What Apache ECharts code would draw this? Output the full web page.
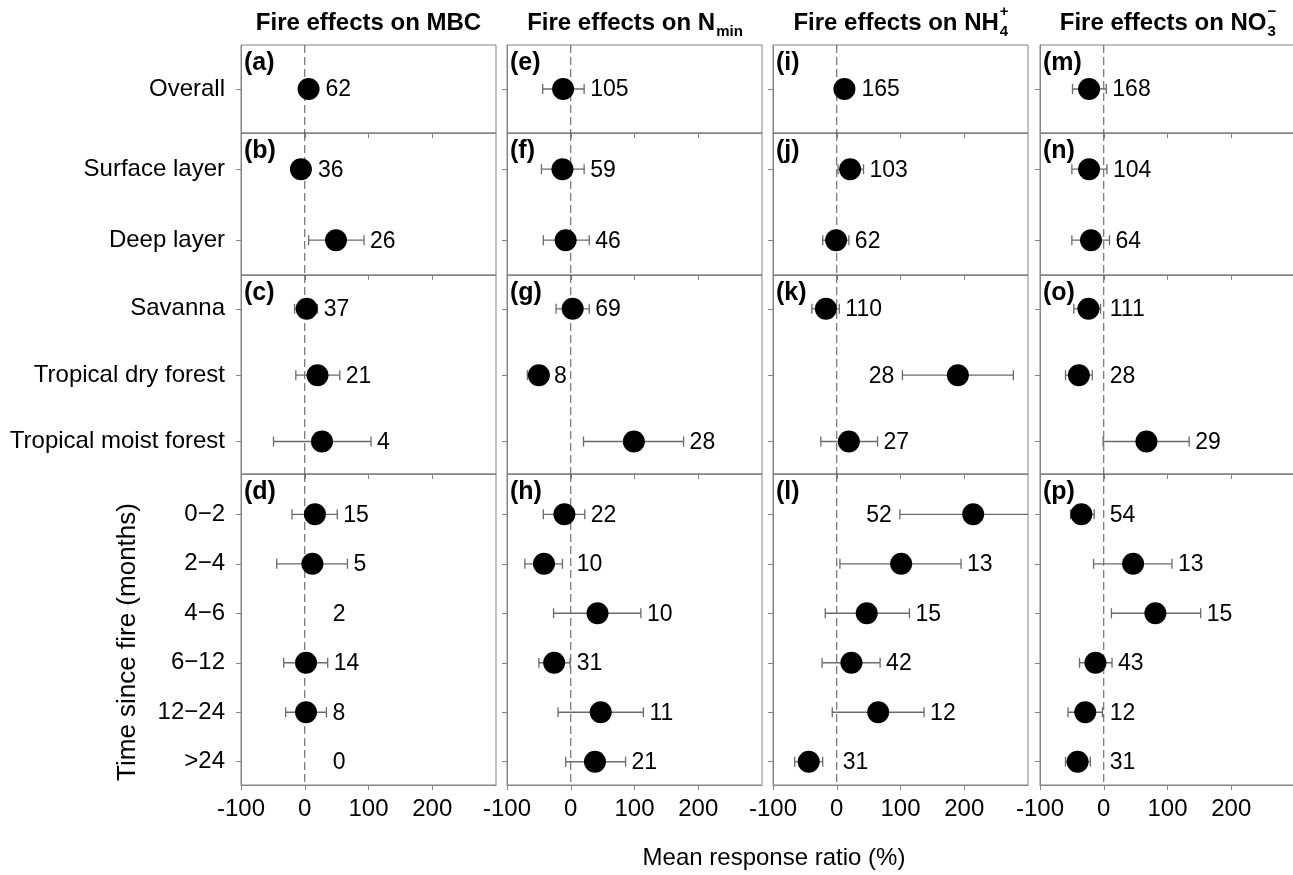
<!DOCTYPE html>
<html>
<head>
<meta charset="utf-8">
<script src="https://cdn.jsdelivr.net/npm/echarts@6/dist/echarts.min.js"></script>
<style>
html,body{margin:0;padding:0;background:#fff;}
#chart{width:1293px;height:875px;}
</style>
</head>
<body>
<div id="chart"></div>
<script>
// ---------------- DATA ----------------
const categories = ['Overall', 'Surface layer', 'Deep layer', 'Savanna', 'Tropical dry forest',
  'Tropical moist forest', '0\u22122', '2\u22124', '4\u22126', '6\u221212', '12\u221224', '>24'];
const groupSizes = [1, 2, 3, 6];
const panelLetters = [['(a)', '(b)', '(c)', '(d)'], ['(e)', '(f)', '(g)', '(h)'],
  ['(i)', '(j)', '(k)', '(l)'], ['(m)', '(n)', '(o)', '(p)']];
const xTickValues = [-100, 0, 100, 200];
const xAxisTitle = 'Mean response ratio (%)';
const yAxisTitle = 'Time since fire (months)';

// MBC
const mbcMean = [6, -6, 49, 3, 20, 27, 16, 12, null, 2, 2, null];
const mbcLow  = [-2, -14, 6, -16, -14, -49, -20, -44, null, -33, -30, null];
const mbcHigh = [14, 3, 93, 20, 55, 104, 51, 67, null, 36, 34, null];
const mbcN    = [62, 36, 26, 37, 21, 4, 15, 5, 2, 14, 8, 0];
// Nmin
const nminMean = [-12, -13, -8, 3, -50, 99, -10, -42, 42, -26, 47, 38];
const nminLow  = [-44, -46, -43, -23, -68, 20, -43, -72, -27, -50, -20, -8];
const nminHigh = [21, 21, 29, 29, -38, 177, 22, -13, 110, -1, 114, 86];
const nminN    = [105, 59, 46, 69, 8, 28, 22, 10, 10, 31, 11, 21];
// NH4+
const nh4Mean = [12, 21, -1, -17, 190, 19, 214, 101, 47, 23, 65, -44];
const nh4Low  = [-2, 2, -22, -39, 103, -25, 99, 5, -18, -23, -7, -66];
const nh4High = [27, 42, 19, 4, 277, 64, 330, 195, 114, 68, 137, -22];
const nh4N    = [165, 103, 62, 110, 28, 27, 52, 13, 15, 42, 12, 31];
// NO3-
const no3Mean = [-23, -23, -20, -24, -39, 67, -35, 46, 81, -13, -29, -41];
const no3Low  = [-49, -50, -50, -47, -60, -1, -52, -16, 12, -38, -56, -60];
const no3High = [4, 5, 9, -5, -18, 134, -15, 107, 152, 13, -2, -21];
const no3N    = [168, 104, 64, 111, 28, 29, 54, 13, 15, 43, 12, 31];

const variables = [
  {mean: mbcMean, lo: mbcLow, hi: mbcHigh, n: mbcN, title: ['Fire effects on MBC', '', '']},
  {mean: nminMean, lo: nminLow, hi: nminHigh, n: nminN, title: ['Fire effects on N', 'min', '']},
  {mean: nh4Mean, lo: nh4Low, hi: nh4High, n: nh4N, title: ['Fire effects on NH', '4', '+']},
  {mean: no3Mean, lo: no3Low, hi: no3High, n: no3N, title: ['Fire effects on NO', '3', '\u2212']}
];

// ---------------- LAYOUT / STYLE ----------------
const FONT = '"Liberation Sans", Arial, sans-serif';
const colLeft = [241, 507, 773, 1040];
const panelW = 255;
const panelTop = [45, 133, 275, 474];
const panelBottom = [133, 275, 474, 785];
const padTop = [0.5, 0.51, 0.51, 0.814];
const padBottom = [0.5, 0.49, 0.49, 0.47];
const gray = '#858585';
const barColor = '#6a6a6a';
const numFont = '23px ' + FONT;

const ctx = document.createElement('canvas').getContext('2d');
function measure(text, font) { ctx.font = font; return ctx.measureText(text).width; }

const chart = echarts.init(document.getElementById('chart'), null, {renderer: 'canvas'});

const grids = [], xAxes = [], yAxes = [], series = [], graphics = [];
const starts = [];
let acc = 0;
groupSizes.forEach(s => { starts.push(acc); acc += s; });

function makeRender(v, start) {
  return function (params, api) {
    const r = params.dataIndex;
    const idx = start + r;
    const m = v.mean[idx], lo = v.lo[idx], hi = v.hi[idx], n = v.n[idx];
    const children = [];
    const base = api.coord([0, r]);
    const zeroPx = base[0], y = base[1];
    if (r === 0) {
      const cs = params.coordSys;
      children.push({type: 'line', shape: {x1: zeroPx, y1: cs.y, x2: zeroPx, y2: cs.y + cs.height},
        style: {stroke: '#555', lineWidth: 1, lineDash: [8, 4]}});
    }
    let labelX, align = 'left';
    const txt = String(n);
    if (m == null) {
      labelX = zeroPx + 28;
    } else {
      const pLo = api.coord([lo, r])[0], pHi = api.coord([hi, r])[0], pm = api.coord([m, r])[0];
      const st = {stroke: barColor, lineWidth: 1.3};
      children.push({type: 'line', shape: {x1: pLo, y1: y, x2: pHi, y2: y}, style: st});
      children.push({type: 'line', shape: {x1: pLo, y1: y - 5, x2: pLo, y2: y + 5}, style: st});
      children.push({type: 'line', shape: {x1: pHi, y1: y - 5, x2: pHi, y2: y + 5}, style: st});
      children.push({type: 'circle', shape: {cx: pm, cy: y, r: 11}, style: {fill: '#000'}});
      const right = Math.max(pHi, pm + 11);
      if (hi > 250) { labelX = pLo - 8; align = 'right'; }
      else if (right + 4 + measure(txt, numFont) + 2 < zeroPx) labelX = right + 4;
      else labelX = Math.max(right, zeroPx) + 6;
    }
    children.push({type: 'text', style: {text: txt, x: labelX, y: y + 1, align: align, textAlign: align,
      verticalAlign: 'middle', textVerticalAlign: 'middle', font: numFont, fill: '#000'}});
    return {type: 'group', children: children};
  };
}

let gi = 0;
variables.forEach((v, c) => {
  groupSizes.forEach((k, g) => {
    const start = starts[g];
    grids.push({left: colLeft[c], top: panelTop[g], width: panelW, height: panelBottom[g] - panelTop[g],
      show: true, borderColor: gray, borderWidth: 1, containLabel: false, outerBoundsMode: 'none'});
    const last = g === groupSizes.length - 1;
    xAxes.push({type: 'value', gridIndex: gi, min: -100, max: 300, interval: 100, position: 'bottom',
      axisLine: {show: true, onZero: false, lineStyle: {color: gray}},
      axisTick: {show: true, length: 5, inside: false, lineStyle: {color: gray}, customValues: xTickValues},
      axisLabel: {show: last, customValues: xTickValues, fontSize: 24, fontFamily: FONT, color: '#000', margin: 12,
        formatter: val => String(val)},
      splitLine: {show: false}});
    const rowIdx = [];
    for (let r = 0; r < k; r++) rowIdx.push(r);
    yAxes.push({type: 'value', gridIndex: gi, inverse: true, min: -padTop[g], max: k - 1 + padBottom[g], position: 'left',
      axisLine: {show: true, onZero: false, lineStyle: {color: gray}},
      axisTick: {show: true, length: 5, inside: false, lineStyle: {color: gray}, customValues: rowIdx},
      axisLabel: {show: c === 0, customValues: rowIdx, fontSize: 24, fontFamily: FONT, color: '#000', margin: 16,
        formatter: val => categories[start + Math.round(val)]},
      splitLine: {show: false}});
    series.push({type: 'custom', xAxisIndex: gi, yAxisIndex: gi, clip: true, silent: true,
      encode: {x: 0, y: 1},
      data: rowIdx.map(r => [v.n[start + r], r]),
      renderItem: makeRender(v, start)});
    graphics.push({type: 'text', x: colLeft[c] + 3, y: panelTop[g] + 18,
      style: {text: panelLetters[c][g], font: 'bold 25px ' + FONT, fill: '#000',
        align: 'left', textAlign: 'left', verticalAlign: 'middle', textVerticalAlign: 'middle'}});
    gi++;
  });
});

// titles with sub/superscripts
const mainFont = 'bold 24px ' + FONT;
const subFont = 'bold 15px ' + FONT;
const titleY = 23;
variables.forEach((v, c) => {
  const [main, sub, sup] = v.title;
  const w1 = measure(main, mainFont);
  const w2 = Math.max(sub ? measure(sub, subFont) : 0, sup ? measure(sup, subFont) : 0);
  const cx = colLeft[c] + panelW / 2;
  const x0 = cx - (w1 + w2) / 2;
  graphics.push({type: 'text', x: x0, y: titleY, style: {text: main, font: mainFont, fill: '#000',
    align: 'left', textAlign: 'left', verticalAlign: 'middle', textVerticalAlign: 'middle'}});
  if (sub) graphics.push({type: 'text', x: x0 + w1 + 1, y: titleY + 9, style: {text: sub, font: subFont, fill: '#000',
    align: 'left', textAlign: 'left', verticalAlign: 'middle', textVerticalAlign: 'middle'}});
  if (sup) graphics.push({type: 'text', x: x0 + w1 + 1, y: titleY - 11, style: {text: sup, font: subFont, fill: '#000',
    align: 'left', textAlign: 'left', verticalAlign: 'middle', textVerticalAlign: 'middle'}});
});

graphics.push({type: 'text', x: 774, y: 858, style: {text: xAxisTitle, font: '24px ' + FONT, fill: '#000',
  align: 'center', textAlign: 'center', verticalAlign: 'middle', textVerticalAlign: 'middle'}});
graphics.push({type: 'text', x: 128, y: 642, rotation: Math.PI / 2, style: {text: yAxisTitle, font: '26px ' + FONT, fill: '#000',
  align: 'center', textAlign: 'center', verticalAlign: 'middle', textVerticalAlign: 'middle'}});

chart.setOption({
  animation: false,
  backgroundColor: '#fff',
  grid: grids,
  xAxis: xAxes,
  yAxis: yAxes,
  series: series,
  graphic: {elements: graphics}
});
</script>
</body>
</html>
